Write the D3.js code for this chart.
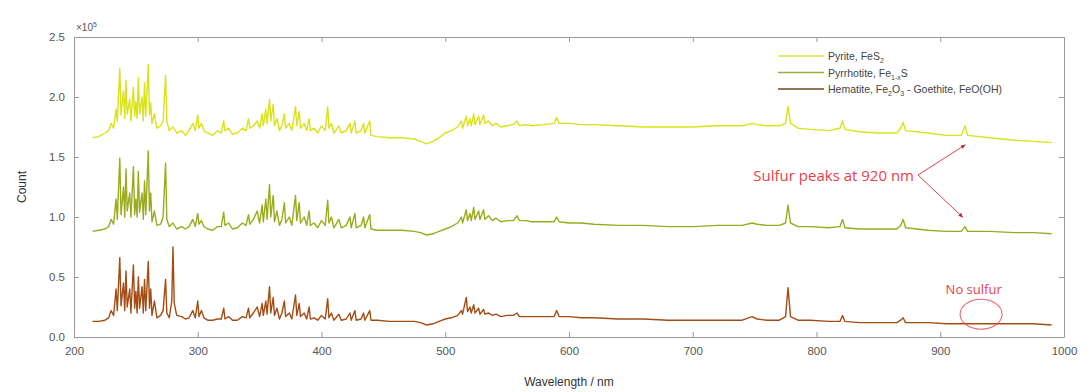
<!DOCTYPE html>
<html>
<head>
<meta charset="utf-8">
<script src="https://cdn.jsdelivr.net/npm/d3@7"></script>
<style>
  body { margin: 0; background: #fff; }
  svg { font-family: "Liberation Sans", Arial, sans-serif; }
</style>
</head>
<body>
<svg width="1089" height="392"></svg>
<script>
// values in units of 1e5 counts, [wavelength nm, count]
var pyrite = [[215,1.66],[220,1.67],[225,1.70],[228,1.72],[230,1.78],[232,1.74],[234,1.90],[235,1.80],[237,2.24],[238,1.85],[240,2.05],[241,1.82],[242,2.14],[243,1.86],[245,1.98],[246,1.80],[248,2.08],[249,1.84],[250,1.96],[251,1.82],[252,2.16],[253,1.86],[255,2.00],[256,1.80],[257,2.12],[258,1.84],[260,2.27],[261,1.85],[262,1.95],[263,1.78],[265,1.86],[267,1.74],[270,1.76],[272,1.80],[274,2.18],[275,1.80],[277,1.72],[280,1.75],[283,1.70],[287,1.72],[290,1.68],[293,1.72],[296,1.78],[298,1.72],[300,1.85],[301,1.74],[303,1.78],[305,1.72],[308,1.70],[312,1.68],[316,1.72],[319,1.70],[321,1.80],[322,1.72],[325,1.74],[328,1.69],[332,1.70],[336,1.74],[339,1.72],[341,1.82],[342,1.74],[345,1.76],[348,1.80],[350,1.74],[352,1.86],[353,1.76],[355,1.90],[356,1.78],[358,1.98],[359,1.80],[361,1.94],[362,1.76],[364,1.82],[366,1.72],[368,1.76],[370,1.86],[371,1.74],[374,1.78],[376,1.72],[379,1.92],[380,1.76],[382,1.88],[383,1.74],[386,1.78],[388,1.72],[390,1.82],[391,1.72],[394,1.74],[397,1.70],[400,1.76],[403,1.72],[405,1.92],[406,1.74],[408,1.78],[410,1.70],[414,1.76],[416,1.70],[420,1.72],[423,1.78],[424,1.70],[427,1.80],[428,1.70],[432,1.72],[434,1.78],[435,1.70],[439,1.80],[440,1.68],[445,1.67],[455,1.66],[465,1.66],[475,1.65],[480,1.63],[485,1.61],[490,1.63],[495,1.66],[500,1.70],[505,1.72],[510,1.75],[513,1.80],[514,1.74],[517,1.84],[518,1.76],[520,1.82],[521,1.76],[523,1.86],[524,1.77],[527,1.84],[528,1.77],[531,1.85],[532,1.78],[535,1.80],[538,1.76],[541,1.78],[545,1.75],[550,1.76],[555,1.77],[558,1.80],[560,1.76],[565,1.77],[570,1.76],[580,1.77],[588,1.78],[590,1.83],[592,1.78],[600,1.78],[610,1.77],[620,1.77],[640,1.76],[660,1.75],[680,1.75],[700,1.75],[720,1.76],[740,1.76],[748,1.78],[752,1.77],[760,1.76],[770,1.76],[775,1.78],[777,1.92],[779,1.78],[785,1.74],[795,1.73],[810,1.72],[819,1.74],[821,1.80],[823,1.73],[835,1.71],[850,1.70],[865,1.70],[868,1.74],[870,1.79],[872,1.72],[890,1.70],[905,1.68],[917,1.68],[920,1.76],[922,1.68],[940,1.66],[960,1.64],[975,1.63],[990,1.62]];

var pyrrhotite = [[215,.88],[220,.89],[225,.90],[228,.92],[230,.98],[232,.94],[234,1.15],[235,.98],[237,1.49],[238,1.02],[240,1.25],[241,1.00],[242,1.40],[243,1.05],[245,1.20],[246,1.00],[248,1.42],[249,1.02],[250,1.15],[251,1.00],[252,1.38],[253,1.04],[255,1.20],[256,.98],[257,1.30],[258,1.02],[260,1.55],[261,1.05],[262,1.20],[263,.96],[265,1.05],[267,.93],[270,.94],[272,1.00],[274,1.45],[275,.98],[277,.92],[280,.95],[283,.90],[287,.92],[290,.90],[293,.92],[296,.98],[298,.92],[300,1.03],[301,.94],[303,.97],[305,.92],[308,.90],[312,.89],[316,.92],[319,.92],[321,1.04],[322,.93],[325,.95],[328,.90],[332,.91],[336,.95],[339,.93],[341,1.02],[342,.94],[345,.98],[348,1.05],[350,.95],[352,1.10],[353,.96],[355,1.15],[356,.98],[358,1.27],[359,1.00],[361,1.18],[362,.96],[364,1.05],[366,.93],[368,.98],[370,1.12],[371,.95],[374,1.00],[376,.93],[379,1.18],[380,.97],[382,1.12],[383,.95],[386,1.00],[388,.93],[390,1.05],[391,.93],[394,.95],[397,.91],[400,.97],[403,.93],[405,1.14],[406,.95],[408,1.00],[410,.91],[414,.98],[416,.91],[420,.93],[423,1.00],[424,.91],[427,1.03],[428,.91],[432,.93],[434,1.00],[435,.91],[439,1.02],[440,.90],[445,.89],[455,.89],[465,.89],[475,.88],[480,.87],[485,.85],[490,.86],[495,.88],[500,.90],[505,.92],[510,.95],[513,1.00],[514,.95],[517,1.06],[518,.97],[520,1.03],[521,.97],[523,1.08],[524,.98],[527,1.05],[528,.98],[531,1.06],[532,.98],[535,1.01],[538,.97],[541,.99],[545,.96],[550,.97],[555,.97],[558,1.01],[560,.97],[565,.97],[570,.96],[580,.96],[588,.96],[590,1.00],[592,.96],[600,.95],[610,.95],[620,.94],[640,.93],[660,.93],[680,.92],[700,.92],[720,.93],[740,.93],[748,.95],[752,.94],[760,.93],[770,.93],[775,.95],[777,1.10],[779,.95],[785,.92],[795,.92],[810,.91],[819,.92],[821,.98],[823,.91],[835,.90],[850,.90],[865,.90],[868,.93],[870,.98],[872,.91],[890,.89],[905,.88],[917,.88],[920,.92],[922,.88],[940,.88],[960,.87],[975,.87],[990,.86]];

var hematite = [[215,.13],[220,.13],[225,.14],[228,.16],[230,.22],[232,.18],[234,.40],[235,.22],[237,.66],[238,.26],[240,.45],[241,.22],[242,.55],[243,.25],[245,.40],[246,.20],[248,.60],[249,.24],[250,.38],[251,.20],[252,.50],[253,.24],[255,.42],[256,.20],[257,.48],[258,.22],[260,.63],[261,.24],[262,.40],[263,.18],[265,.30],[267,.16],[270,.18],[272,.22],[274,.48],[275,.20],[277,.16],[279,.30],[280,.75],[281,.28],[283,.18],[287,.17],[290,.15],[293,.16],[296,.22],[298,.16],[300,.30],[301,.17],[303,.22],[305,.16],[308,.14],[312,.14],[316,.15],[319,.15],[321,.24],[322,.15],[325,.17],[328,.14],[332,.14],[336,.17],[339,.16],[341,.24],[342,.16],[345,.20],[348,.25],[350,.17],[352,.28],[353,.18],[355,.30],[356,.19],[358,.42],[359,.20],[361,.33],[362,.18],[364,.24],[366,.15],[368,.20],[370,.30],[371,.17],[374,.20],[376,.15],[379,.35],[380,.18],[382,.28],[383,.17],[386,.20],[388,.15],[390,.25],[391,.15],[394,.16],[397,.14],[400,.18],[403,.15],[405,.32],[406,.16],[408,.20],[410,.14],[414,.19],[416,.14],[420,.15],[423,.20],[424,.14],[427,.22],[428,.14],[432,.15],[434,.20],[435,.14],[439,.22],[440,.14],[445,.14],[455,.13],[465,.13],[475,.13],[480,.12],[485,.10],[490,.11],[495,.13],[500,.15],[505,.16],[510,.18],[513,.22],[514,.19],[517,.33],[518,.21],[520,.25],[521,.20],[523,.27],[524,.20],[527,.24],[528,.19],[531,.23],[532,.19],[535,.20],[538,.18],[541,.19],[545,.17],[550,.18],[555,.18],[558,.20],[560,.17],[565,.17],[570,.17],[580,.17],[588,.17],[590,.22],[592,.17],[600,.17],[610,.16],[620,.16],[640,.15],[660,.15],[680,.14],[700,.14],[720,.14],[740,.14],[748,.17],[752,.15],[760,.14],[770,.14],[775,.17],[777,.41],[779,.17],[785,.14],[795,.14],[810,.13],[819,.13],[821,.18],[823,.13],[835,.12],[850,.12],[865,.12],[868,.14],[870,.16],[872,.12],[890,.12],[905,.11],[917,.11],[920,.11],[922,.11],[940,.11],[960,.11],[975,.11],[990,.10]];

var xTicks = [200, 300, 400, 500, 600, 700, 800, 900, 1000];
var yTicks = [0, 0.5, 1.0, 1.5, 2.0, 2.5];
var seriesNames = ["Pyrite, FeS", "Pyrrhotite, Fe", "Hematite, Fe"];

function main() {
    var svg = d3.select("svg"),
        margin = {top: 37, right: 25, bottom: 55, left: 74},
        width = svg.attr("width") - margin.left - margin.right,
        height = svg.attr("height") - margin.top - margin.bottom;

    var g = svg.append("g")
        .attr("transform", `translate(${margin.left},${margin.top})`);

    var x = d3.scaleLinear().domain([200, 1000]).range([0, width]);
    var y = d3.scaleLinear().domain([0, 2.5]).range([height, 0]);

    var axisColor = "#9a9a9a", textColor = "#555";

    // axes, ticks pointing in (matlab style)
    g.append("g")
      .attr("transform", `translate(0,${height})`)
      .call(d3.axisBottom(x).tickValues(xTicks).tickSizeInner(-5).tickSizeOuter(0).tickPadding(10).tickFormat(d3.format("d")));
    g.append("g")
      .call(d3.axisTop(x).tickValues(xTicks).tickSizeInner(-5).tickSizeOuter(0).tickFormat(""));
    g.append("g")
      .call(d3.axisLeft(y).tickValues(yTicks).tickSizeInner(-5).tickSizeOuter(0).tickPadding(9).tickFormat(d3.format(".1f")));
    g.append("g")
      .attr("transform", `translate(${width},0)`)
      .call(d3.axisRight(y).tickValues(yTicks).tickSizeInner(-5).tickSizeOuter(0).tickFormat(""));

    g.selectAll(".domain").attr("stroke", axisColor);
    g.selectAll(".tick line").attr("stroke", axisColor);
    g.selectAll(".tick text").attr("fill", textColor).style("font-size", "11.5px");

    // exponent
    var ex = g.append("text").attr("x", 2).attr("y", -6).attr("fill", textColor).style("font-size", "10px");
    ex.append("tspan").text("×10");
    ex.append("tspan").attr("dy", -4).style("font-size", "7px").text("5");

    // lines
    var line = d3.line().x(d => x(d[0])).y(d => y(d[1]));
    var series = [
        {data: pyrite, color: "#d9e31a"},
        {data: pyrrhotite, color: "#9aab1c"},
        {data: hematite, color: "#a34d14"}
    ];
    g.selectAll(".spec")
      .data(series)
      .join("path")
        .attr("class", "spec")
        .attr("d", d => line(d.data))
        .attr("fill", "none")
        .attr("stroke", d => d.color)
        .attr("stroke-width", 1.4)
        .attr("stroke-linejoin", "round");

    // legend
    var legColors = ["#d9e54a", "#9dae3c", "#6e4a1c"];
    var leg = g.append("g").attr("transform", "translate(704,19)");
    seriesNames.forEach(function(name, i) {
        var row = leg.append("g").attr("transform", `translate(0,${i * 16.5})`);
        row.append("line").attr("x1", 0).attr("x2", 46).attr("y1", 0).attr("y2", 0)
          .attr("stroke", legColors[i]).attr("stroke-width", 1.5);
        var t = row.append("text").attr("x", 50).attr("y", 4).attr("fill", "#444").style("font-size", "10.5px");
        t.append("tspan").text(name);
        if (i === 0) {
            t.append("tspan").attr("dy", 3).style("font-size", "7px").text("2");
        } else if (i === 1) {
            t.append("tspan").attr("dy", 3).style("font-size", "7px").text("1-x");
            t.append("tspan").attr("dy", -3).text("S");
        } else {
            t.append("tspan").attr("dy", 3).style("font-size", "7px").text("2");
            t.append("tspan").attr("dy", -3).text("O");
            t.append("tspan").attr("dy", 3).style("font-size", "7px").text("3");
            t.append("tspan").attr("dy", -3).text(" - Goethite, FeO(OH)");
        }
    });

    // annotations
    var red = "#e8404a";
    svg.append("defs").append("marker")
        .attr("id", "arr").attr("viewBox", "0 0 10 10").attr("refX", 8).attr("refY", 5)
        .attr("markerWidth", 5).attr("markerHeight", 5).attr("orient", "auto")
      .append("path").attr("d", "M0,1 L10,5 L0,9 Z").attr("fill", "#b0303a");

    g.append("text").attr("x", x(882) - 4).attr("y", y(1.30)).attr("text-anchor", "end")
      .attr("fill", red).style("font-family", "'Open Sans', sans-serif").style("font-size", "15px")
      .text("Sulfur peaks at 920 nm");
    g.append("path")
      .attr("d", `M${x(882)},${y(1.35)} L${x(920)},${y(1.6)}`)
      .attr("stroke", red).attr("fill", "none").attr("marker-end", "url(#arr)");
    g.append("path")
      .attr("d", `M${x(882)},${y(1.35)} L${x(918)},${y(1.0)}`)
      .attr("stroke", red).attr("fill", "none").attr("marker-end", "url(#arr)");

    g.append("text").attr("x", x(927)).attr("y", y(0.36)).attr("text-anchor", "middle")
      .attr("fill", red).style("font-family", "'Open Sans', sans-serif").style("font-size", "13px")
      .text("No sulfur");
    g.append("ellipse").attr("cx", x(933)).attr("cy", y(0.19)).attr("rx", 21).attr("ry", 15)
      .attr("fill", "none").attr("stroke", red).attr("stroke-width", 1.1).attr("opacity", 0.8);

    // axis labels
    svg.append("text").attr("x", margin.left + width / 2).attr("y", 386).attr("text-anchor", "middle")
      .attr("fill", "#333").style("font-size", "12px").text("Wavelength / nm");
    svg.append("text").attr("transform", `translate(26,${margin.top + height / 2}) rotate(-90)`)
      .attr("text-anchor", "middle").attr("fill", "#333").style("font-size", "12px").text("Count");
}
main();
</script>
</body>
</html>
